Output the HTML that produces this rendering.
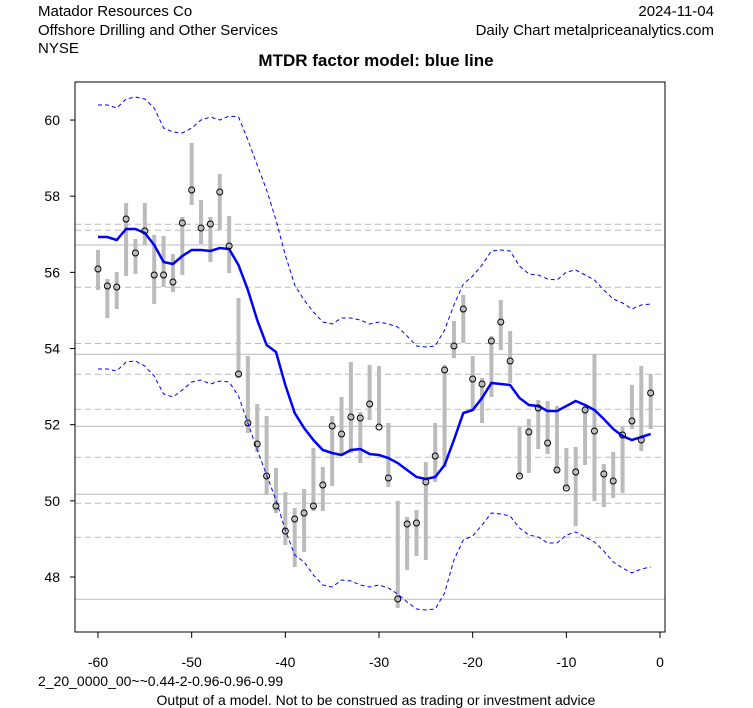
<!DOCTYPE html><html><head><meta charset="utf-8"><style>body{margin:0;background:#fff}svg{display:block}text{font-family:"Liberation Sans",Arial,sans-serif}</style></head><body>
<svg id="s" width="753" height="708" xmlns="http://www.w3.org/2000/svg">
<rect width="753" height="708" fill="#fff"/>
<text x="38" y="16" font-size="15">Matador Resources Co</text>
<text x="38" y="35" font-size="15">Offshore Drilling and Other Services</text>
<text x="38" y="53" font-size="15">NYSE</text>
<text x="714" y="16" font-size="15" text-anchor="end">2024-11-04</text>
<text x="714" y="35" font-size="15" text-anchor="end">Daily Chart metalpriceanalytics.com</text>
<text x="376" y="66" font-size="17" font-weight="bold" text-anchor="middle">MTDR factor model: blue line</text>
<g id="g"></g>
<rect x="75" y="82" width="590" height="550" fill="none" stroke="#000" stroke-width="1"/>
<text x="38" y="686" font-size="14">2_20_0000_00~~0.44-2-0.96-0.96-0.99</text>
<text x="376" y="705" font-size="14" text-anchor="middle">Output of a model. Not to be construed as trading or investment advice</text>
</svg>
<script>
var g=document.getElementById('g'),h='';
function X(v){return 98+(v+60)*9.367;}
[224.3,230.3,287.3,343.5,374.3,409.3,457.3,503.3,537.3].forEach(function(y){h+='<line x1="75" x2="665" y1="'+y+'" y2="'+y+'" stroke="#bbb" stroke-dasharray="6,4"/>';});
[245,354.3,426.3,494.3,599.3].forEach(function(y){h+='<line x1="75" x2="665" y1="'+y+'" y2="'+y+'" stroke="#bbb"/>';});
// y axis
[48,50,52,54,56,58,60].forEach(function(v){var y=577-(v-48)*38.08;h+='<line x1="70" x2="75" y1="'+y+'" y2="'+y+'" stroke="#000"/><text x="60" y="'+(y+5)+'" font-size="14" text-anchor="end">'+v+'</text>';});
[-60,-50,-40,-30,-20,-10,0].forEach(function(v){var x=X(v);h+='<line x1="'+x+'" x2="'+x+'" y1="632" y2="638" stroke="#000"/><text x="'+x+'" y="667" font-size="14" text-anchor="middle">'+v+'</text>';});
var P=[[269,250,290],[286,279,318],[287,272,309],[219,203,276],[253,239,274],[231,203,245],[275,235,304],[275,236,287],[282,254,292],[223,217,275],[190,143,205],[228,200,244],[224,217,262],[192,174,230],[246,216,273],[374,298,378],[423,356,433],[444,404,452],[476,416,495],[506,468,513],[531,492,545],[519,508,567],[513,489,552],[506,448,511],[485,467,511],[426,416,486],[434,397,455],[417,362,453],[418,412,463],[404,365,420],[427,366,427],[478,423,487],[599,501,608],[524,517,570],[523,510,556],[482,462,560],[456,423,482],[370,365,467],[346,321,358],[309,295,343],[379,356,411],[384,378,423],[341,336,397],[322,300,350],[361,331,383],[476,427,477],[432,419,473],[408,400,449],[443,401,454],[470,406,472],[488,448,489],[472,447,526],[410,406,465],[431,354,501],[474,464,507],[481,452,498],[435,427,493],[421,385,429],[440,366,451],[393,374,429]];
var B=[237,237,240,229,229,233,245,262,264,256,250,250,251,248,249,265,290,320,345,352,385,413,428,440,450,453,455,450,449,454,455,458,463,470,477,479,477,465,440,413,410,398,383,384,385,398,405,406,411,411,406,401,405,410,419,429,436,440,437,434];
var U=[105,105,108,99,97,99,108,128,132,133,128,120,117,120,116,117,140,165,190,220,255,285,300,312,322,324,318,318,320,324,322,324,327,336,346,347,346,330,305,284,276,265,251,250,251,266,274,275,279,280,272,270,275,280,290,299,303,309,305,304];
var L=[369,369,371,362,361,366,376,394,397,390,382,380,384,381,382,396,423,450,475,500,530,555,562,575,585,587,580,581,585,587,585,588,594,602,609,610,609,593,560,540,536,525,513,514,516,528,535,537,543,543,535,532,537,542,551,562,568,573,569,567];
P.forEach(function(p,i){var x=X(i-60);h+='<line x1="'+x+'" x2="'+x+'" y1="'+p[1]+'" y2="'+p[2]+'" stroke="#bbb" stroke-width="4"/>';});
function pl(a,st){return '<polyline fill="none" points="'+a.map(function(y,i){return X(i-60).toFixed(1)+','+y;}).join(' ')+'" '+st+'/>';}
h+=pl(U,'stroke="#00f" stroke-width="1" stroke-dasharray="4,3"');
h+=pl(L,'stroke="#00f" stroke-width="1" stroke-dasharray="4,3"');
h+=pl(B,'stroke="#00f" stroke-width="2.5"');
P.forEach(function(p,i){var x=X(i-60);h+='<circle cx="'+x+'" cy="'+p[0]+'" r="3" fill="none" stroke="#000" stroke-width="1"/>';});
g.innerHTML=h;
</script>
</body></html>
